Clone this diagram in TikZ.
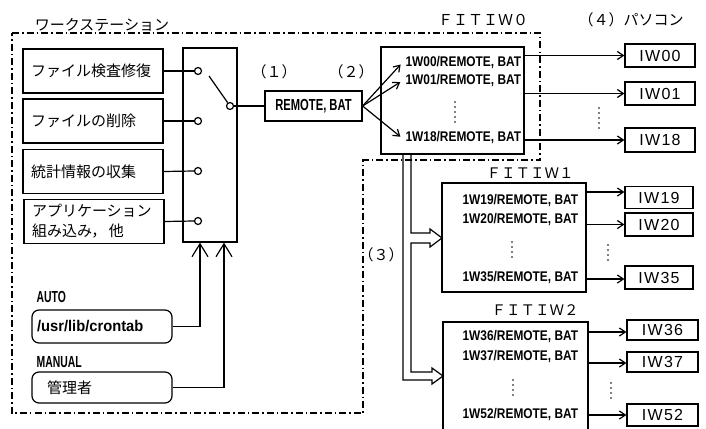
\documentclass[tikz,border=0pt]{standalone}
\usepackage{fontspec}
\setmainfont{Noto Sans CJK JP}
\newfontfamily\condA{Liberation Sans}[FakeStretch=0.7]
\newfontfamily\condB{Liberation Sans}[FakeStretch=0.85]
\newfontfamily\condC{Liberation Sans}[FakeStretch=0.65]
\newfontfamily\lsans{Liberation Sans}[FakeStretch=0.95]
\newfontfamily\pcf{Liberation Sans}[LetterSpace=8]
\usetikzlibrary{arrows.meta}
\begin{document}
\begin{tikzpicture}[x=1pt,y=-1pt,line width=1.2pt,
  jp/.style={font=\fontsize{15}{20}\selectfont},
  lbox/.style={draw,rectangle,minimum width=140pt,minimum height=44pt,inner xsep=8pt,inner ysep=0pt,text width=124pt,align=left,jp},
  port/.style={circle,draw,minimum size=7pt,inner sep=0pt,fill=white},
  fitbox/.style={draw,rectangle,inner sep=0pt},
  ftxt/.style={anchor=west,inner xsep=3pt,inner ysep=1pt,font=\condB\bfseries\fontsize{14}{14}\selectfont},
  pcbox/.style={draw,rectangle,minimum width=70pt,inner sep=0pt,font=\pcf\fontsize{16}{16}\selectfont},
  hdr/.style={inner sep=0pt,font=\fontsize{15}{15}\selectfont},
  lab/.style={anchor=west,inner sep=0pt,font=\condC\bfseries\fontsize{16}{16}\selectfont},
  rbox/.style={draw,rectangle,rounded corners=7pt,minimum width=140pt,inner ysep=0pt,align=left},
  arr/.style={-{Straight Barb[length=6pt,width=8pt]}},
  uparr/.style={-{Straight Barb[length=13pt,width=16pt]}},
  dotcol/.style={line width=1.8pt,line cap=round,dash pattern=on 0pt off 5pt},
  dashdot/.style={line width=1.1pt,dash pattern=on 7pt off 3pt on 1.5pt off 3pt}]
\useasboundingbox (0,0) rectangle (706,428);

% workstation boundary
\draw[dashdot] (12,33) -- (540,33) -- (540,160) -- (363,160) -- (363,413) -- (12,413) -- cycle;
\node[hdr] (ws) at (102,25) {ワークステーション};

% left function boxes
\node[lbox] (b1) at (93,71) {ファイル検査修復};
\node[lbox] (b2) at (93,121) {ファイルの削除};
\node[lbox] (b3) at (93,171.5) {統計情報の収集};
\node[lbox] (b4) at (94,221.5) {アプリケーション\\組み込み，\,他};

% switch
\node[draw,minimum width=54pt,minimum height=194pt,inner sep=0pt] (sw) at (210,145) {};
\node[port] (c1) at (198,71) {};
\node[port] (c2) at (198,121) {};
\node[port] (c3) at (198,171) {};
\node[port] (c4) at (198,221) {};
\node[port] (co) at (230,106) {};
\coordinate (lv) at (209,76);
\draw (b1.east) -- (c1.west);
\draw (b2.east) -- (c2.west);
\draw (b3.east) -- (c3.west);
\draw (b4.east) -- (c4.west);
\draw (lv) -- (co);

% REMOTE.BAT
\node[draw,minimum width=97pt,minimum height=30pt,inner sep=0pt,font=\condA\bfseries\fontsize{16}{16}\selectfont] (rb) at (313.5,106) {REMOTE, BAT};
\draw (co.east) -- (rb.west);
\node[hdr] (n1) at (274,72) {（１）};
\node[hdr] (n2) at (351,72) {（２）};

% FITIW0
\node[fitbox,minimum width=143pt,minimum height=107pt] (fit0) at (452.5,100.5) {};
\node[hdr] (h0) at (483,20) {ＦＩＴＩＷ０};
\node[ftxt] (t00) at (402,63) {1W00/REMOTE, BAT};
\node[ftxt] (t01) at (402,81) {1W01/REMOTE, BAT};
\node[ftxt] (t18) at (402,138) {1W18/REMOTE, BAT};
\coordinate (d0a) at (455,102); \coordinate (d0b) at (455,122);
\draw[dotcol] (d0a) -- (d0b);
\draw[arr,shorten >=2pt] (rb.east) -- (t00.west);
\draw[arr,shorten >=2pt] (rb.east) -- (t01.west);
\draw[arr,shorten >=2pt] (rb.east) -- (t18.west);

\node[hdr] (h4) at (631,20) {（４）パソコン};
\node[pcbox,minimum height=23pt] (pc00) at (660,55.5) {IW00};
\node[pcbox,minimum height=23pt] (pc01) at (660,93.5) {IW01};
\node[pcbox,minimum height=24pt] (pc18) at (660,140) {IW18};
\coordinate (p0a) at (599,108); \coordinate (p0b) at (599,128);
\draw[dotcol] (p0a) -- (p0b);
\draw[arr] (fit0.east |- pc00.west) -- (pc00.west);
\draw[arr] (fit0.east |- pc01.west) -- (pc01.west);
\draw[arr] (fit0.east |- pc18.west) -- (pc18.west);

% FITIW1
\node[fitbox,minimum width=144pt,minimum height=109pt] (fit1) at (514,237.5) {};
\node[hdr,font=\fontsize{14.5}{14.5}\selectfont] (h1) at (530,173) {ＦＩＴＩＷ１};
\node[ftxt] (t19) at (459,201) {1W19/REMOTE, BAT};
\node[ftxt] (t20) at (459,220) {1W20/REMOTE, BAT};
\node[ftxt] (t35) at (459,278) {1W35/REMOTE, BAT};
\coordinate (d1a) at (512,242); \coordinate (d1b) at (512,259);
\draw[dotcol] (d1a) -- (d1b);
\node[pcbox,minimum width=68pt,minimum height=22pt] (pc19) at (659,197.5) {IW19};
\node[pcbox,minimum width=68pt,minimum height=23pt] (pc20) at (659,224.5) {IW20};
\node[pcbox,minimum width=68pt,minimum height=23pt] (pc35) at (659,277.5) {IW35};
\coordinate (p1a) at (608,245); \coordinate (p1b) at (608,262);
\draw[dotcol] (p1a) -- (p1b);
\coordinate (e19) at ([yshift=5.5pt]pc19.west);
\coordinate (e35) at ([yshift=-1.5pt]pc35.west);
\draw[arr] (fit1.east |- e19) -- (e19);
\draw[arr] (fit1.east |- pc20.west) -- (pc20.west);
\draw[arr] (fit1.east |- e35) -- (e35);

% FITIW2
\node[fitbox,minimum width=145pt,minimum height=110pt] (fit2) at (515.5,377) {};
\node[hdr,font=\fontsize{14.5}{14.5}\selectfont] (h2) at (535,310) {ＦＩＴＩＷ２};
\node[ftxt] (t36) at (459,337) {1W36/REMOTE, BAT};
\node[ftxt] (t37) at (459,357) {1W37/REMOTE, BAT};
\node[ftxt] (t52) at (459,415) {1W52/REMOTE, BAT};
\coordinate (d2a) at (513,380); \coordinate (d2b) at (513,397);
\draw[dotcol] (d2a) -- (d2b);
\node[pcbox,minimum width=71pt,minimum height=20pt] (pc36) at (662.5,330) {IW36};
\node[pcbox,minimum width=71pt,minimum height=20pt] (pc37) at (662.5,362) {IW37};
\node[pcbox,minimum width=71pt,minimum height=22pt] (pc52) at (662.5,415) {IW52};
\coordinate (p2a) at (611,383); \coordinate (p2b) at (611,400);
\draw[dotcol] (p2a) -- (p2b);
\coordinate (e36) at ([yshift=-2pt]pc36.west);
\coordinate (e37) at ([yshift=-1pt]pc37.west);
\draw[arr] (fit2.east |- e36) -- (e36);
\draw[arr] (fit2.east |- e37) -- (e37);
\draw[arr] (fit2.east |- pc52.west) -- (pc52.west);

% double (hollow) distribution arrow (3)
\coordinate (tip1) at (442,238);
\coordinate (tip2) at (443,376);
\draw[line join=miter] (403,154) -- (403,380) -- (432,380) -- (432,384) -- (tip2) -- (432,368) -- (432,372)
  -- (411,372) -- (411,243) -- (430,243) -- (430,247) -- (tip1) -- (430,229) -- (430,233) -- (411,233) -- (411,154);
\node[hdr] (n3) at (381,255) {（３）};

% triggers
\node[lab] (auto) at (36,297) {AUTO};
\node[rbox,minimum height=33pt,inner xsep=5pt,text width=130pt,font=\lsans\bfseries\fontsize{15.5}{15.5}\selectfont] (cron) at (102,326.5) {/usr/lib/crontab};
\node[lab] (man) at (36,362) {MANUAL};
\node[rbox,minimum height=31pt,inner xsep=15pt,text width=110pt,jp] (kanri) at (102,387.5) {管理者};
\coordinate (a1) at ([xshift=-10pt]sw.south);
\coordinate (a2) at ([xshift=14pt]sw.south);
\draw[uparr] (cron.east) -| (a1);
\draw[uparr] (kanri.east) -| (a2);
\end{tikzpicture}
\end{document}
